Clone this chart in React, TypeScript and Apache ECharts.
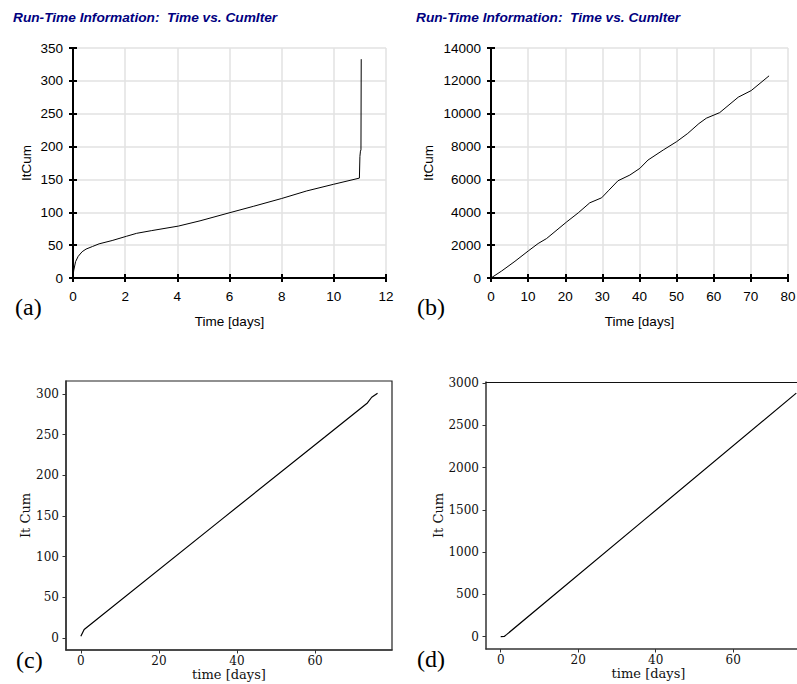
import React, { useEffect, useRef } from 'react';
import * as echarts from 'echarts';

// (a) Run-time: time vs cumulative iterations (short run)
const aTime = [0, 0.03, 0.1, 0.2, 0.35, 0.5, 0.75, 1.0, 1.5, 2.05, 2.44, 3.0, 4.04, 4.87, 6.02, 6.91, 8.0, 8.96, 9.98, 10.98, 11.0, 11.02, 11.04, 11.05];
const aIter = [3, 12, 25, 33, 40, 44, 48, 52, 57, 63.5, 68, 72, 79, 87, 99.5, 109, 121, 132.5, 142.5, 152, 185, 193, 195, 333];

// (b) Run-time: time vs cumulative iterations (long run)
const bTime = [0, 2.87, 6.46, 10.04, 12.7, 14.98, 20.4, 23.5, 26.6, 29.8, 31.6, 34.2, 37.4, 40.1, 42.3, 46.4, 50, 53, 56, 58, 61.6, 66.6, 70.1, 74.9];
const bIter = [0, 427, 1017, 1647, 2099, 2404, 3418, 3966, 4576, 4881, 5308, 5918, 6266, 6675, 7181, 7792, 8300, 8800, 9400, 9726, 10067, 11006, 11410, 12306];

// (c)
const cTime = [0, 0.85, 36.4, 62.5, 73.4, 74.5, 76];
const cIter = [2, 10.2, 147, 247, 289, 296, 301];

// (d)
const dTime = [0, 0.9, 1.5, 37.2, 76.3];
const dIter = [0, 2, 24, 1387, 2880];

// tick labels
const cXTicks = [0, 20, 40, 60];
const cYTicks = [0, 50, 100, 150, 200, 250, 300];
const dXTicks = [0, 20, 40, 60];
const dYTicks = [0, 500, 1000, 1500, 2000, 2500, 3000];

const TITLE = 'Run-Time Information:  Time vs. CumIter';
const sans = '"Liberation Sans", Arial, sans-serif';
const serif = '"DejaVu Serif", serif';
const plain = (v: number) => String(v);

function zip(x: number[], y: number[]) {
  return x.map((v, i) => [v, y[i]]);
}

export default function App() {
  const ref = useRef<HTMLDivElement>(null);
  useEffect(() => {
    const chart = echarts.init(ref.current!, null, { renderer: 'svg' });

    const grids = [
      { left: 73, top: 48, width: 313, height: 230, outerBoundsMode: 'none' },
      { left: 491, top: 48, width: 297, height: 230, outerBoundsMode: 'none' },
      { left: 66, top: 381, width: 326, height: 269, show: true, borderColor: '#222', borderWidth: 1.2, outerBoundsMode: 'none' },
      { left: 486, top: 382, width: 325, height: 267, outerBoundsMode: 'none' },
    ];

    const excelAxis = (gridIndex: number, min: number, max: number, interval: number, isX: boolean, name: string, nameGap: number) => [
      {
        gridIndex, type: 'value', min, max, interval,
        position: isX ? 'bottom' : 'left',
        name, nameLocation: 'middle', nameGap,
        nameTextStyle: { fontFamily: sans, fontSize: 13.5, color: '#000' },
        axisLine: { show: true, onZero: false, lineStyle: { color: '#000', width: 2 } },
        axisTick: { show: true, length: 4, lineStyle: { color: '#000', width: 2 } },
        axisLabel: { margin: isX ? 11 : 10, fontFamily: sans, fontSize: 13.5, color: '#000', formatter: plain },
        splitLine: { show: true, lineStyle: { color: '#e2e2e2', width: 1.5 } },
      },
      {
        gridIndex, type: 'value', min, max, interval,
        position: isX ? 'bottom' : 'left',
        axisLine: { show: false, onZero: false },
        axisTick: { show: true, inside: true, length: 4, lineStyle: { color: '#000', width: 2 } },
        axisLabel: { show: false },
        splitLine: { show: false },
      },
    ];

    const mplAxis = (gridIndex: number, min: number, max: number, ticks: number[], isX: boolean, name: string, nameGap: number, margin: number) => ({
      gridIndex, type: 'value', min, max,
      position: isX ? 'bottom' : 'left',
      name, nameLocation: 'middle', nameGap,
      nameTextStyle: { fontFamily: serif, fontSize: 13, color: '#111' },
      axisLine: { show: true, onZero: false, lineStyle: { color: '#333', width: 1.5 } },
      axisTick: { show: true, length: 3.5, customValues: ticks, lineStyle: { color: '#333', width: 1 } },
      axisLabel: { margin, customValues: ticks, fontFamily: serif, fontSize: 12, color: '#111', formatter: plain },
      splitLine: { show: false },
    });

    // top border line of panel (d), whose right edge lies beyond the page
    const dTopAxis = {
      gridIndex: 3, type: 'value', min: -3.8, max: 80.1, position: 'top',
      axisLine: { show: true, onZero: false, lineStyle: { color: '#111', width: 1.2 } },
      axisTick: { show: false }, axisLabel: { show: false }, splitLine: { show: false },
    };

    const xAxes = [
      ...excelAxis(0, 0, 12, 2, true, 'Time [days]', 36),
      ...excelAxis(1, 0, 80, 10, true, 'Time [days]', 36),
      mplAxis(2, -3.8, 79.7, cXTicks, true, 'time [days]', 18, 5),
      mplAxis(3, -3.8, 80.1, dXTicks, true, 'time [days]', 18, 5),
      dTopAxis,
    ];
    const yAxes = [
      ...excelAxis(0, 0, 350, 50, false, 'ItCum', 40),
      ...excelAxis(1, 0, 14000, 2000, false, 'ItCum', 56),
      mplAxis(2, -15, 316, cYTicks, false, 'It Cum', 32, 7),
      mplAxis(3, -146, 3012, dYTicks, false, 'It Cum', 41, 7),
    ];

    const lineSeries = (idx: number, axisIdx: number, data: number[][], width: number) => ({
      type: 'line', xAxisIndex: axisIdx, yAxisIndex: axisIdx, data,
      showSymbol: false, symbol: 'none', silent: true,
      lineStyle: { color: '#000', width },
      z: 5 + idx,
    });

    const label = (text: string, x: number, y: number) => ({
      type: 'text', x, y,
      style: { text, font: '24px "Liberation Serif", "Times New Roman", serif', fill: '#000', align: 'left', verticalAlign: 'middle' },
    });

    chart.setOption({
      animation: false,
      backgroundColor: '#fff',
      grid: grids,
      xAxis: xAxes,
      yAxis: yAxes,
      series: [
        lineSeries(0, 0, zip(aTime, aIter), 1),
        lineSeries(1, 2, zip(bTime, bIter), 1),
        lineSeries(2, 4, zip(cTime, cIter), 1.2),
        lineSeries(3, 5, zip(dTime, dIter), 1.2),
      ],
      graphic: [
        { type: 'text', x: 13, y: 17, style: { text: TITLE, font: 'italic bold 13.7px ' + sans, fill: '#000080', verticalAlign: 'middle' } },
        { type: 'text', x: 416, y: 17, style: { text: TITLE, font: 'italic bold 13.7px ' + sans, fill: '#000080', verticalAlign: 'middle' } },
        label('(a)', 15, 307),
        label('(b)', 417, 307),
        label('(c)', 16, 660),
        label('(d)', 417, 659),
      ],
    });
    return () => chart.dispose();
  }, []);
  return (
    <div
      ref={ref}
      style={{ position: 'absolute', left: 0, top: 0, width: 797, height: 684, overflow: 'hidden', background: '#fff' }}
    />
  );
}
